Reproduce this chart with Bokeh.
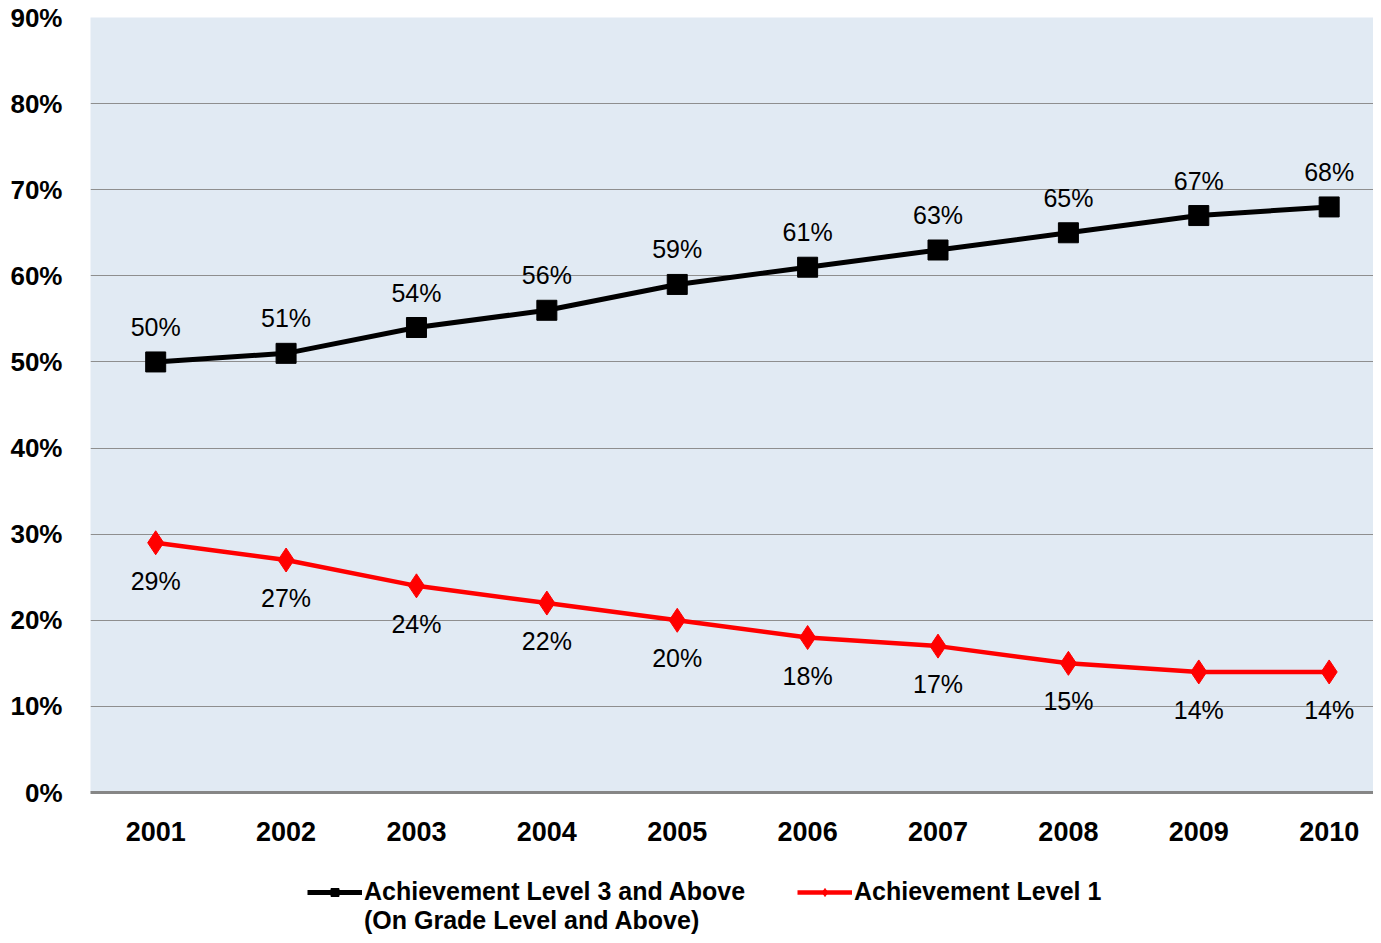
from bokeh.plotting import figure
from bokeh.layouts import column
from bokeh.models import ColumnDataSource, LabelSet, FixedTicker, Legend, LegendItem, Range1d
from bokeh.core.properties import value
from bokeh.embed import file_html
from bokeh.resources import INLINE

years = [2001, 2002, 2003, 2004, 2005, 2006, 2007, 2008, 2009, 2010]
level3_above = [50, 51, 54, 56, 59, 61, 63, 65, 67, 68]
level1 = [29, 27, 24, 22, 20, 18, 17, 15, 14, 14]
y_ticks = [0, 10, 20, 30, 40, 50, 60, 70, 80, 90]
series_names = ["Achievement Level 3 and Above", "Achievement Level 1"]
series_note = "(On Grade Level and Above)"

src_a = ColumnDataSource(dict(x=years, y=level3_above, t=[f"{v}%" for v in level3_above]))
src_b = ColumnDataSource(dict(x=years, y=level1, t=[f"{v}%" for v in level1]))

p = figure(width=1373, height=860, output_backend="svg", toolbar_location=None,
           x_range=Range1d(2000.5, 2010.34), y_range=Range1d(0, 90),
           min_border_left=90, min_border_right=0, min_border_top=17, min_border_bottom=68)
p.background_fill_color = "#E1EAF3"
p.border_fill_color = "white"
p.outline_line_color = None

p.xaxis.ticker = FixedTicker(ticks=years)
p.yaxis.ticker = FixedTicker(ticks=y_ticks)
p.yaxis.major_label_overrides = {t: f"{t}%" for t in y_ticks}
p.xaxis.major_label_overrides = {y: str(y) for y in years}
for ax in (p.xaxis, p.yaxis):
    ax.major_tick_line_color = None
    ax.minor_tick_line_color = None
    ax.major_label_text_font = "Liberation Sans"
    ax.major_label_text_font_style = "bold"
    ax.major_label_text_color = "black"
p.yaxis.axis_line_color = None
p.yaxis.major_label_text_font_size = "26px"
p.yaxis.major_label_standoff = 22
p.xaxis.major_label_text_font_size = "27px"
p.xaxis.major_label_standoff = 23
p.xaxis.axis_line_color = "#868686"
p.xaxis.axis_line_width = 3

p.xgrid.grid_line_color = None
p.ygrid.ticker = FixedTicker(ticks=[10, 20, 30, 40, 50, 60, 70, 80])
p.ygrid.grid_line_color = "#8E8E8E"
p.ygrid.grid_line_width = 1

p.line("x", "y", source=src_a, line_color="black", line_width=5)
p.scatter("x", "y", source=src_a, marker="square", size=20, fill_color="black", line_color="black")
p.line("x", "y", source=src_b, line_color="#FF0000", line_width=4.5)
p.scatter("x", "y", source=src_b, marker="diamond", size=24, fill_color="#FF0000", line_color="#FF0000")

for src, off in ((src_a, 35), (src_b, -38)):
    p.add_layout(LabelSet(x="x", y="y", text="t", source=src, y_offset=off,
                          text_align="center", text_baseline="middle",
                          text_font=value("Liberation Sans"), text_font_size=value("25px"),
                          text_color="black"))

# legend strip below the chart: same series, drawn out of its visible range so only the key shows
lf = figure(width=1373, height=75, output_backend="svg", toolbar_location=None,
            x_range=Range1d(2000.5, 2010.4), y_range=Range1d(200, 300),
            x_axis_location=None, y_axis_location=None,
            min_border=0, min_border_left=0, min_border_right=0, min_border_top=0, min_border_bottom=0)
lf.outline_line_color = None
lf.grid.grid_line_color = None
la = lf.line("x", "y", source=src_a, line_color="black", line_width=5)
ma = lf.scatter("x", "y", source=src_a, marker="square", size=14, fill_color="black", line_color="black")
lb = lf.line("x", "y", source=src_b, line_color="#FF0000", line_width=4.5)
mb = lf.scatter("x", "y", source=src_b, marker="diamond", size=18, fill_color="#FF0000", line_color="#FF0000")
dummy = lf.line("x", "y", source=src_b, line_alpha=0)

legend = Legend(items=[LegendItem(label=series_names[0], renderers=[la, ma]),
                       LegendItem(label=series_names[1], renderers=[lb, mb]),
                       LegendItem(label=series_note, renderers=[dummy])],
                orientation="horizontal", ncols=2, location=(217, 0),
                label_text_font="Liberation Sans", label_text_font_style="bold",
                label_text_font_size="25px", label_text_color="black",
                glyph_width=55, glyph_height=20, label_height=24, label_width=433,
                spacing=0, padding=0, margin=0,
                label_standoff=2, background_fill_alpha=0, border_line_color=None)
lf.add_layout(legend, "center")

open("out.html", "w").write(file_html(column(p, lf), INLINE))
